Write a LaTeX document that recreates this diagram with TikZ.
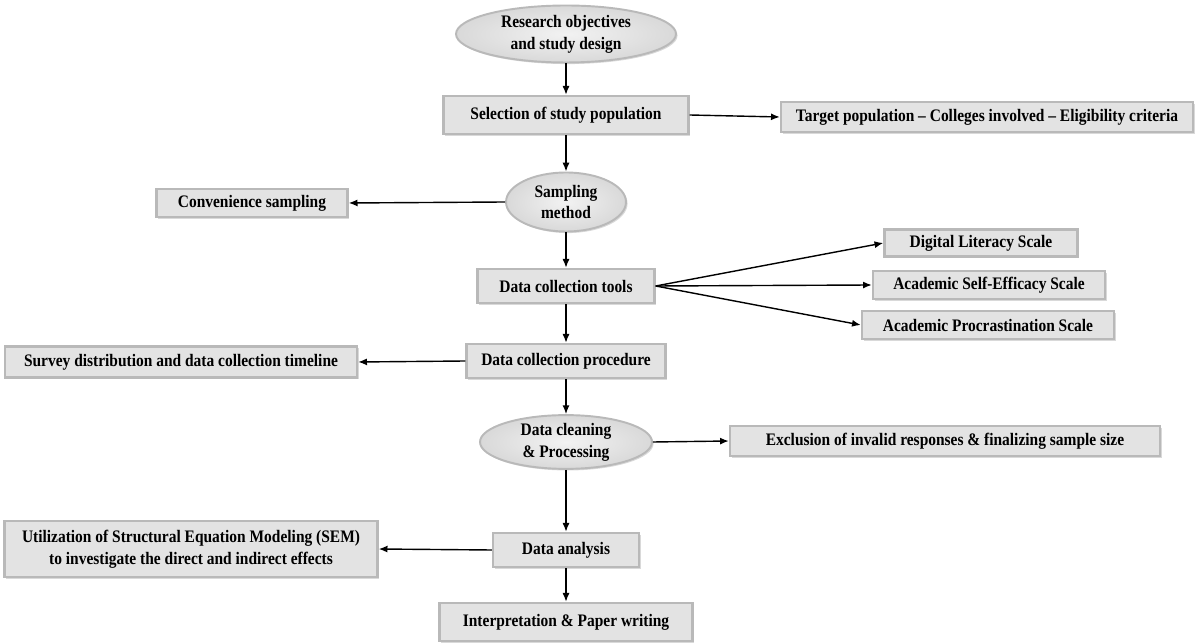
\documentclass[tikz,border=0pt]{standalone}
\usepackage{fontspec}
\setmainfont{Liberation Serif}[FakeStretch=0.88]
\usetikzlibrary{shapes.geometric,shadows,arrows.meta}
\begin{document}
\begin{tikzpicture}[x=0.02cm,y=-0.02cm,
  txt/.style={font=\bfseries\fontsize{10}{12.5}\selectfont, align=center, text=black},
  box/.style={txt, rectangle, draw=gray!55, line width=1.4pt, fill=gray!22, inner sep=0pt,
    drop shadow={shadow xshift=0.9pt, shadow yshift=-0.9pt, opacity=0.3}},
  oval/.style={txt, ellipse, draw=gray!55, line width=1.1pt, inner sep=0pt,
    inner color=gray!10, outer color=gray!30,
    drop shadow={shadow xshift=0.9pt, shadow yshift=-0.9pt, opacity=0.3}},
  arr/.style={-{Latex[length=5pt,width=4pt]}, line width=0.8pt, draw=black}]
\useasboundingbox (0,0) rectangle (1200,644);
% main column
\node[oval, minimum width=4.4cm, minimum height=1.14cm] (obj) at (566,34) {Research objectives\\and study design};
\node[box, minimum width=4.9cm, minimum height=0.76cm] (sel) at (566,115) {Selection of study population};
\node[oval, minimum width=2.4cm, minimum height=1.18cm] (samp) at (566,202) {Sampling\\method};
\node[box, minimum width=3.54cm, minimum height=0.68cm] (tools) at (566,286) {Data collection tools};
\node[box, minimum width=3.98cm, minimum height=0.68cm] (proc) at (566,361) {Data collection procedure};
\node[oval, minimum width=3.44cm, minimum height=0.94cm] (clean) at (566,442) {Data cleaning\\\& Processing};
\node[box, minimum width=2.92cm, minimum height=0.68cm] (ana) at (566,550) {Data analysis};
\node[box, minimum width=5.06cm, minimum height=0.76cm] (interp) at (566,622) {Interpretation \& Paper writing};
% side boxes
\node[box, minimum width=8.24cm, minimum height=0.6cm] (tgt) at (987,117) {Target population -- Colleges involved -- Eligibility criteria};
\node[box, minimum width=3.82cm, minimum height=0.56cm] (conv) at (252,203) {Convenience sampling};
\node[box, minimum width=3.86cm, minimum height=0.54cm] (dls) at (981,243) {Digital Literacy Scale};
\node[box, minimum width=4.64cm, minimum height=0.56cm] (ase) at (989,285) {Academic Self-Efficacy Scale};
\node[box, minimum width=5.04cm, minimum height=0.56cm] (aps) at (988,325) {Academic Procrastination Scale};
\node[box, minimum width=7.04cm, minimum height=0.62cm] (surv) at (181,362) {Survey distribution and data collection timeline};
\node[box, minimum width=8.6cm, minimum height=0.6cm] (excl) at (945,441) {Exclusion of invalid responses \& finalizing sample size};
\node[box, minimum width=7.46cm, minimum height=1.12cm] (util) at (191,549) {Utilization of Structural Equation Modeling (SEM)\\to investigate the direct and indirect effects};
% vertical connectors
\draw[arr] (obj) -- (sel);
\draw[arr] (sel) -- (samp);
\draw[arr] (samp) -- (tools);
\draw[arr] (tools) -- (proc);
\draw[arr] (proc) -- (clean);
\draw[arr] (clean) -- (ana);
\draw[arr] (ana) -- (interp);
% side connectors
\draw[arr] (sel.east) -- (tgt.west);
\draw[arr] (samp.west) -- (conv.east);
\draw[arr] (tools.east) -- (dls.west);
\draw[arr] (tools.east) -- (ase.west);
\draw[arr] (tools.east) -- (aps.west);
\draw[arr] (proc.west) -- (surv.east);
\draw[arr] (clean.east) -- (excl.west);
\draw[arr] (ana.west) -- (util.east);
\end{tikzpicture}
\end{document}
